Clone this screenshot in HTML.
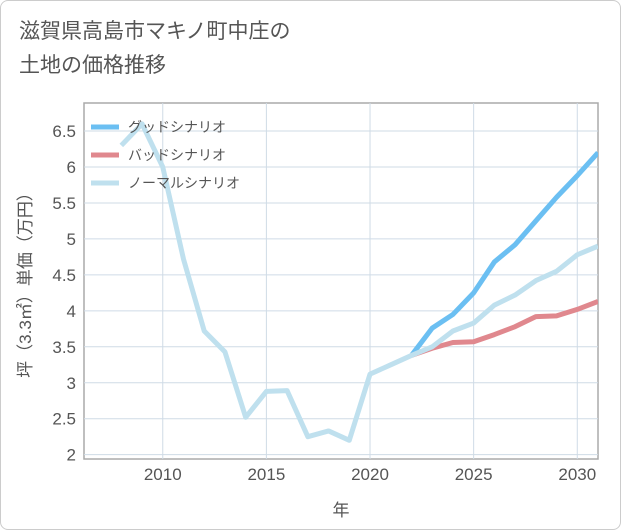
<!DOCTYPE html>
<html><head><meta charset="utf-8"><style>
body{margin:0;background:#fff;font-family:"Liberation Sans","Noto Sans CJK JP",sans-serif;}
#wrap{position:relative;width:619px;height:528px;border:1px solid #ccc;border-radius:8px;overflow:hidden;}
#title{position:absolute;left:18px;top:14px;font-size:21px;line-height:34px;color:#555;}
svg{position:absolute;left:0;top:0;}
</style></head><body>
<div id="wrap">
<div id="title">滋賀県高島市マキノ町中庄の<br>土地の価格推移</div>
<svg id="chart" width="621" height="530"></svg>
</div>
<script>
const normalYears=[2008,2009,2010,2011,2012,2013,2014,2015,2016,2017,2018,2019,2020,2021,2022,2023,2024,2025,2026,2027,2028,2029,2030,2031];
const normalVals=[6.3,6.6,6.0,4.72,3.72,3.43,2.52,2.88,2.89,2.25,2.33,2.2,3.12,3.25,3.38,3.5,3.72,3.83,4.08,4.22,4.42,4.55,4.78,4.9];
const goodYears=[2022,2023,2024,2025,2026,2027,2028,2029,2030,2031];
const goodVals=[3.38,3.76,3.95,4.25,4.68,4.92,5.25,5.58,5.88,6.2];
const badYears=[2022,2023,2024,2025,2026,2027,2028,2029,2030,2031];
const badVals=[3.38,3.48,3.56,3.57,3.67,3.78,3.92,3.93,4.02,4.13];
const xTicks=[2010,2015,2020,2025,2030];
const yTicks=[2,2.5,3,3.5,4,4.5,5,5.5,6,6.5];
const L=83,R=597,T=102,B=458,X0=2006.2,X1=2031,Y0=1.94,Y1=6.89;
const xs=v=>L+(v-X0)/(X1-X0)*(R-L);
const ys=v=>B-(v-Y0)/(Y1-Y0)*(B-T);
const svg=document.getElementById('chart');const NS='http://www.w3.org/2000/svg';
function mk(t,a,p){const e=document.createElementNS(NS,t);for(const k in a)e.setAttribute(k,a[k]);(p||svg).appendChild(e);return e;}
const pa=mk('rect',{x:L,y:T,width:R-L,height:B-T,fill:'#fff',stroke:'#aaa','stroke-width':1.5});


yTicks.forEach(v=>{const g=mk('line',{x1:L,x2:R,y1:ys(v),y2:ys(v),stroke:'#cfdbe6','stroke-width':1});


const t=mk('text',{x:L-8,y:ys(v)+6,'text-anchor':'end','font-size':17,fill:'#555'});t.textContent=String(v);

});
xTicks.forEach(v=>{const g=mk('line',{x1:xs(v),x2:xs(v),y1:T,y2:B,stroke:'#cfdbe6','stroke-width':1});


const t=mk('text',{x:xs(v),y:B+21,'text-anchor':'middle','font-size':17,fill:'#555'});t.textContent=String(v);

});
function line(xsA,vs,c,n){const p=mk('polyline',{points:xsA.map((y,i)=>xs(y)+','+ys(vs[i])).join(' '),fill:'none',stroke:c,'stroke-width':5,'stroke-linejoin':'round'});

}
const clip=mk('clipPath',{id:'cp'});mk('rect',{x:L,y:T,width:R-L,height:B-T},clip);
line(goodYears,goodVals,'#6bbff2','good-scenario-line');
line(badYears,badVals,'#e0888e','bad-scenario-line');
line(normalYears,normalVals,'#bfe0ee','normal-scenario-line');
svg.querySelectorAll('polyline').forEach(p=>p.setAttribute('clip-path','url(#cp)'));
const leg=[['グッドシナリオ','#6bbff2'],['バッドシナリオ','#e0888e'],['ノーマルシナリオ','#bfe0ee']];
leg.forEach((l,i)=>{const y=126+i*28;
const s=mk('line',{x1:90,x2:118,y1:y,y2:y,stroke:l[1],'stroke-width':5});


const t=mk('text',{x:127,y:y+5,'font-size':14,fill:'#555'});t.textContent=l[0];

});
const xt=mk('text',{x:(L+R)/2,y:515,'text-anchor':'middle','font-size':17,fill:'#555'});xt.textContent='年';


const yt=mk('text',{x:0,y:0,'text-anchor':'middle','font-size':17,fill:'#555',transform:'translate(30,'+((T+B)/2)+') rotate(-90)'});yt.textContent='坪（3.3㎡）単価（万円）';


</script>
</body></html>
